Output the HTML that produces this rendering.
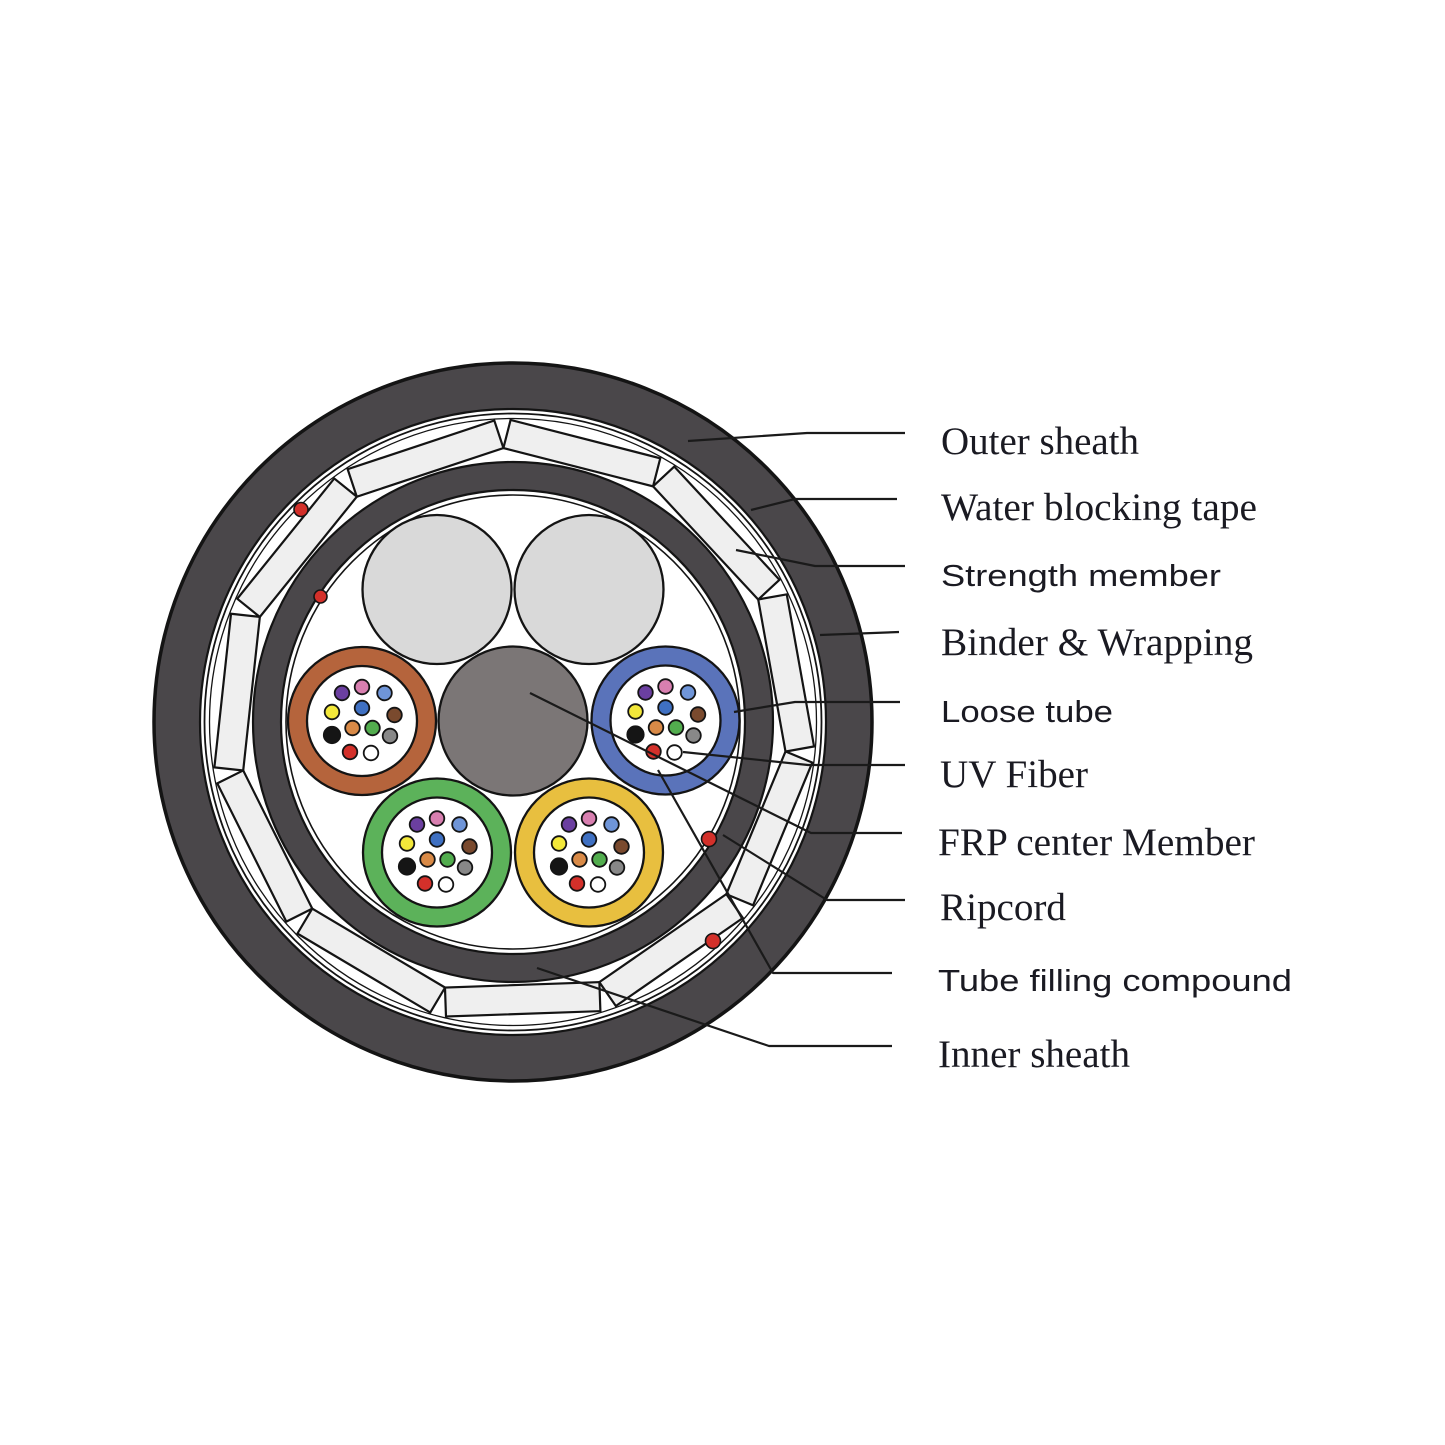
<!DOCTYPE html>
<html>
<head>
<meta charset="utf-8">
<style>
  html, body { margin: 0; padding: 0; background: #ffffff; }
  svg { display: block; }
  .serif { font-family: "Liberation Serif", "Times New Roman", serif; font-size: 39px; fill: #1a1a22; }
  .sans { font-family: "Liberation Sans", Arial, sans-serif; font-size: 31px; fill: #1a1a22; }
</style>
</head>
<body>
<svg width="1445" height="1445" viewBox="0 0 1445 1445" xmlns="http://www.w3.org/2000/svg">
  <rect width="1445" height="1445" fill="#ffffff"/>

  <!-- Outer sheath -->
  <circle cx="513" cy="722" r="359" fill="#4a474a" stroke="#141414" stroke-width="3.5"/>
  <circle cx="513" cy="722" r="313" fill="#ffffff" stroke="#141414" stroke-width="2.2"/>
  <!-- water blocking tape rings -->
  <circle cx="513" cy="722" r="308.5" fill="none" stroke="#141414" stroke-width="1.8"/>
  <circle cx="513" cy="722" r="303.5" fill="none" stroke="#141414" stroke-width="1.3"/>

  <!-- Strength member segments (11) -->
  <g fill="#efefef" stroke="#141414" stroke-width="2.2" stroke-linejoin="miter">
    <rect x="435.75" y="430" width="154.5" height="29" transform="rotate(14.36 513 722)"/>
    <rect x="435.75" y="430" width="154.5" height="29" transform="rotate(47.09 513 722)"/>
    <rect x="435.75" y="430" width="154.5" height="29" transform="rotate(79.82 513 722)"/>
    <rect x="435.75" y="430" width="154.5" height="29" transform="rotate(112.54 513 722)"/>
    <rect x="435.75" y="430" width="154.5" height="29" transform="rotate(145.27 513 722)"/>
    <rect x="435.75" y="430" width="154.5" height="29" transform="rotate(178.0 513 722)"/>
    <rect x="435.75" y="430" width="154.5" height="29" transform="rotate(210.72 513 722)"/>
    <rect x="435.75" y="430" width="154.5" height="29" transform="rotate(243.45 513 722)"/>
    <rect x="435.75" y="430" width="154.5" height="29" transform="rotate(276.18 513 722)"/>
    <rect x="435.75" y="430" width="154.5" height="29" transform="rotate(308.9 513 722)"/>
    <rect x="435.75" y="430" width="154.5" height="29" transform="rotate(341.63 513 722)"/>
  </g>

  <!-- Inner sheath -->
  <circle cx="513" cy="722" r="260" fill="#4a474a" stroke="#141414" stroke-width="2.2"/>
  <circle cx="513" cy="722" r="232" fill="#ffffff" stroke="#141414" stroke-width="2.2"/>
  <circle cx="513" cy="722" r="227" fill="none" stroke="#141414" stroke-width="1.6"/>

  <!-- Fillers -->
  <circle cx="437" cy="589.5" r="74.5" fill="#d9d9d9" stroke="#141414" stroke-width="2.3"/>
  <circle cx="589" cy="589.5" r="74.5" fill="#d9d9d9" stroke="#141414" stroke-width="2.3"/>

  <!-- FRP center member -->
  <circle cx="513" cy="721" r="74.5" fill="#7b7676" stroke="#141414" stroke-width="2.3"/>

  <!-- Loose tube template -->
  <defs>
    <g id="fibers">
      <circle cx="0" cy="0" r="55" fill="#ffffff" stroke="#141414" stroke-width="2.3"/>
      <g stroke="#141414" stroke-width="1.8">
        <circle cx="-20" cy="-28" r="7.3" fill="#6b3fa0"/>
        <circle cx="0" cy="-34" r="7.3" fill="#d87fb0"/>
        <circle cx="22.5" cy="-28" r="7.3" fill="#6f95d8"/>
        <circle cx="-30" cy="-9" r="7.3" fill="#f3e83a"/>
        <circle cx="0" cy="-13" r="7.3" fill="#3f70c2"/>
        <circle cx="32.5" cy="-6" r="7.3" fill="#7a4a2e"/>
        <circle cx="-30" cy="14" r="8.2" fill="#151515"/>
        <circle cx="-9.5" cy="7" r="7.3" fill="#d98a47"/>
        <circle cx="10.5" cy="7" r="7.3" fill="#52ad4e"/>
        <circle cx="28" cy="15" r="7.3" fill="#888888"/>
        <circle cx="-12" cy="31" r="7.3" fill="#d3302a"/>
        <circle cx="9" cy="32" r="7.3" fill="#ffffff"/>
      </g>
    </g>
  </defs>

  <!-- Brown tube -->
  <circle cx="362" cy="721" r="74" fill="#b5643c" stroke="#141414" stroke-width="2.3"/>
  <use href="#fibers" x="362" y="721"/>
  <!-- Blue tube -->
  <circle cx="665.5" cy="720.5" r="74" fill="#5a73ba" stroke="#141414" stroke-width="2.3"/>
  <use href="#fibers" x="665.5" y="720.5"/>
  <!-- Green tube -->
  <circle cx="437" cy="852.5" r="74" fill="#5cb25a" stroke="#141414" stroke-width="2.3"/>
  <use href="#fibers" x="437" y="852.5"/>
  <!-- Yellow tube -->
  <circle cx="589" cy="852.5" r="74" fill="#e8bf3f" stroke="#141414" stroke-width="2.3"/>
  <use href="#fibers" x="589" y="852.5"/>

  <!-- Ripcords -->
  <g fill="#d3302a" stroke="#141414" stroke-width="1.6">
    <circle cx="301" cy="509.5" r="7"/>
    <circle cx="320.5" cy="596.5" r="6.5"/>
    <circle cx="709" cy="839" r="7.5"/>
    <circle cx="713" cy="941" r="7.5"/>
  </g>

  <!-- Leader lines -->
  <g fill="none" stroke="#1a1a1a" stroke-width="2.2" stroke-linejoin="round">
    <polyline points="688,441 807,433 905,433"/>
    <polyline points="751,510 795,499 897,499"/>
    <polyline points="736,550 815,566 905,566"/>
    <polyline points="820,635 899,632"/>
    <polyline points="734,712 795,702 900,702"/>
    <polyline points="683,752 808,765 905,765"/>
    <polyline points="530,693 811,833 902,833"/>
    <polyline points="723,835 827,900 905,900"/>
    <polyline points="658,770 773,973 892,973"/>
    <polyline points="537,968 769,1046 892,1046"/>
  </g>

  <!-- Labels -->
  <text class="serif" x="941" y="454" textLength="198" lengthAdjust="spacingAndGlyphs">Outer sheath</text>
  <text class="serif" x="941" y="520" textLength="316" lengthAdjust="spacingAndGlyphs">Water blocking tape</text>
  <text class="sans" x="941" y="586" textLength="280" lengthAdjust="spacingAndGlyphs">Strength member</text>
  <text class="serif" x="941" y="655" textLength="312" lengthAdjust="spacingAndGlyphs">Binder &amp; Wrapping</text>
  <text class="sans" x="941" y="722" textLength="172" lengthAdjust="spacingAndGlyphs">Loose tube</text>
  <text class="serif" x="940" y="787" textLength="148" lengthAdjust="spacingAndGlyphs">UV Fiber</text>
  <text class="serif" x="938" y="855" textLength="317" lengthAdjust="spacingAndGlyphs">FRP center Member</text>
  <text class="serif" x="940" y="920" textLength="126" lengthAdjust="spacingAndGlyphs">Ripcord</text>
  <text class="sans" x="938" y="991" textLength="354" lengthAdjust="spacingAndGlyphs">Tube filling compound</text>
  <text class="serif" x="938" y="1067" textLength="192" lengthAdjust="spacingAndGlyphs">Inner sheath</text>
</svg>
</body>
</html>
